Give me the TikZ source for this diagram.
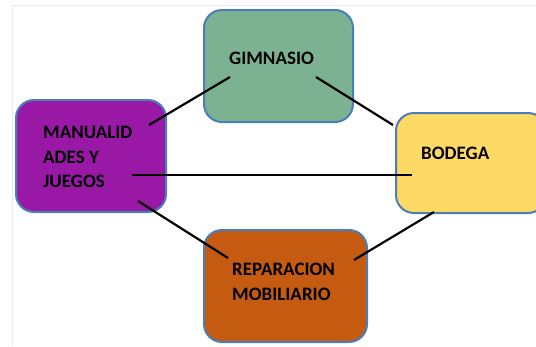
\documentclass[tikz,border=0pt]{standalone}
\usepackage{fontspec}
\setmainfont{Carlito}
\usepackage{xcolor}
\usepackage{tikz}

\definecolor{gimcol}{RGB}{124,178,146}
\definecolor{mancol}{RGB}{154,24,166}
\definecolor{bodcol}{RGB}{255,217,102}
\definecolor{repcol}{RGB}{197,90,17}
\definecolor{edgecol}{RGB}{74,126,187}

\begin{document}
\begin{tikzpicture}[
  x=1pt, y=-1pt,
  font=\fontsize{19}{24.5}\selectfont\bfseries,
  box/.style={draw=edgecol, line width=2pt, rounded corners=18pt, inner sep=0pt},
  lbl/.style={anchor=west, align=left, inner sep=0pt, text=black},
  link/.style={line width=2.2pt, black},
]
\useasboundingbox (0,0) rectangle (536,346);
\clip (0,0) rectangle (536,346);
\draw[black!8, line width=1pt] (12,346) |- (536,5);
% boxes
\node[box, fill=gimcol, minimum width=149pt, minimum height=112pt] (gim) at (278.5,66) {};
\node[box, fill=mancol, minimum width=150pt, minimum height=112pt] (man) at (91,156) {};
\node[box, fill=bodcol, minimum width=150pt, minimum height=100pt] (bod) at (471,163) {};
\node[box, fill=repcol, minimum width=163pt, minimum height=112pt] (rep) at (285.5,286) {};
% texts
\node[lbl] (gimtxt) at (229,58) {GIMNASIO};
\node[lbl] (mantxt) at (43,157) {MANUALID\\ADES Y\\JUEGOS};
\node[lbl] (bodtxt) at (421,153) {BODEGA};
\node[lbl] (reptxt) at (232,282) {REPARACION\\MOBILIARIO};
% line ends inside the boxes
\coordinate (m1) at (149,125); \coordinate (g1) at (230,77);
\coordinate (g2) at (316,77);  \coordinate (b1) at (393,125);
\coordinate (m2) at (132,175); \coordinate (b2) at (412,175);
\coordinate (m3) at (138,201); \coordinate (r1) at (228,258);
\coordinate (b3) at (434,212); \coordinate (r2) at (354,260);
\draw[link] (m1) -- (g1);
\draw[link] (g2) -- (b1);
\draw[link] (m2) -- (b2);
\draw[link] (m3) -- (r1);
\draw[link] (b3) -- (r2);
\end{tikzpicture}
\end{document}
